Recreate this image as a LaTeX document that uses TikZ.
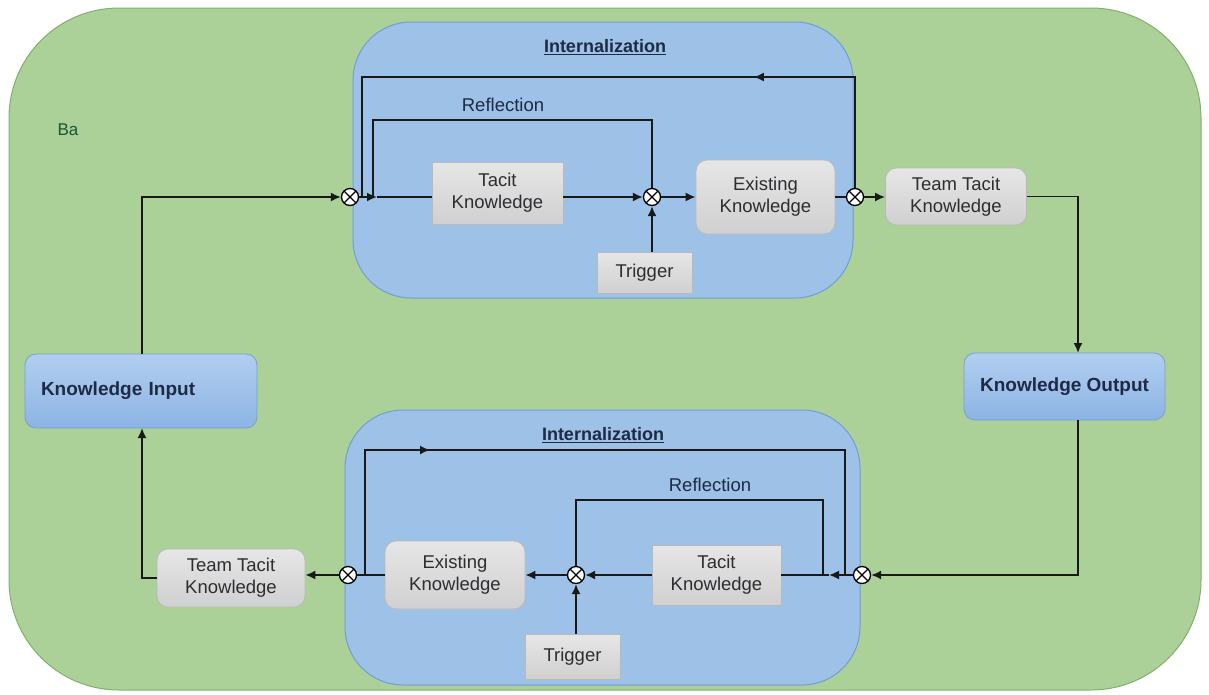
\documentclass[tikz,border=0pt]{standalone}
\usepackage{fontspec}
\setmainfont{Liberation Sans}
\usetikzlibrary{arrows.meta,decorations.markings,calc}
\definecolor{bagreen}{RGB}{171,209,152}
\definecolor{bagreenborder}{RGB}{128,176,108}
\definecolor{contblue}{RGB}{158,193,232}
\definecolor{contblueborder}{RGB}{112,158,212}
\definecolor{boxtop}{RGB}{230,230,230}
\definecolor{boxbot}{RGB}{208,208,208}
\definecolor{boxborder}{RGB}{185,185,185}
\definecolor{kbtop}{RGB}{178,206,240}
\definecolor{kbbot}{RGB}{140,180,228}
\definecolor{kbborder}{RGB}{118,160,212}
\definecolor{txt}{RGB}{45,45,50}
\definecolor{navy}{RGB}{30,42,70}
\begin{document}
\begin{tikzpicture}[x=1pt,y=-1pt,
  regfont/.style={font=\fontsize{18.5}{22}\selectfont},
  ln/.style={line width=1.7pt, draw=black!90},
  arr/.style={ln, -{Latex[length=10pt,width=9pt]}},
  midarrow/.style={postaction={decorate}, decoration={markings, mark=at position #1 with {\arrow{Latex[length=10pt,width=9pt]}}}},
  container/.style={draw=contblueborder, line width=1pt, fill=contblue, rounded corners=58pt, inner sep=0pt},
  graybox/.style={draw=boxborder, line width=0.8pt, top color=boxtop, bottom color=boxbot, align=center, text=txt, regfont, inner sep=2pt},
  grayround/.style={graybox, rounded corners=11pt},
  kbox/.style={draw=kbborder, line width=0.8pt, top color=kbtop, bottom color=kbbot, rounded corners=11pt, text=navy, font=\fontsize{19}{22}\selectfont\bfseries, inner sep=2pt},
  junc/.style={circle, draw=black, line width=1.3pt, fill=white, minimum size=17pt, inner sep=0pt,
    path picture={\draw[line width=1.1pt] (path picture bounding box.north west) -- (path picture bounding box.south east)
      (path picture bounding box.north east) -- (path picture bounding box.south west);}},
  lbl/.style={text=navy, regfont},
  title/.style={text=navy, font=\fontsize{18}{22}\selectfont\bfseries}
]
\useasboundingbox (0,0) rectangle (1209,694);
% Ba background
\node[draw=bagreenborder, line width=1pt, fill=bagreen, rounded corners=110pt, minimum width=1192pt, minimum height=682pt, inner sep=0pt] (ba) at (605,349) {};
\node[text=navy!80!green, font=\fontsize{17}{20}\selectfont] (batext) at (68,130) {Ba};

% containers
\node[container, minimum width=500pt, minimum height=276pt] (topc) at (603,160) {};
\node[container, minimum width=515pt, minimum height=275pt] (botc) at (602.5,547.5) {};
\node[title] (t1) at (605,47) {\underline{Internalization}};
\node[title] (t2) at (603,435) {\underline{Internalization}};

% top row nodes
\node[graybox, minimum width=131pt, minimum height=62pt] (tacitT) at (497.5,193) {Tacit\\Knowledge};
\node[grayround, minimum width=139pt, minimum height=74pt] (existT) at (765.5,197) {Existing\\Knowledge};
\node[grayround, minimum width=141pt, minimum height=57pt] (teamT) at (956,196.5) {Team Tacit\\Knowledge};
\node[graybox, minimum width=95pt, minimum height=41pt] (trigT) at (644.5,272.5) {Trigger};
\node[junc] (J1) at (350,197) {};
\node[junc] (J2) at (652,197) {};
\node[junc] (J3) at (855,197) {};
\node[lbl] (reflT) at (503,105) {Reflection};

% bottom row nodes
\node[graybox, minimum width=129pt, minimum height=60pt] (tacitB) at (716.5,575) {Tacit\\Knowledge};
\node[grayround, minimum width=140pt, minimum height=68pt] (existB) at (455,575) {Existing\\Knowledge};
\node[grayround, minimum width=148pt, minimum height=58pt] (teamB) at (231,578) {Team Tacit\\Knowledge};
\node[graybox, minimum width=95pt, minimum height=45pt] (trigB) at (572.5,656.5) {Trigger};
\node[junc] (J4) at (862,575) {};
\node[junc] (J5) at (576,575) {};
\node[junc] (J6) at (348,575) {};
\node[lbl] (reflB) at (710,485) {Reflection};

% knowledge input / output
\node[kbox, minimum width=232pt, minimum height=74pt, text width=200pt, align=left] (KI) at (141,391) {Knowledge Input};
\node[kbox, minimum width=201pt, minimum height=67pt] (KO) at (1064.5,386.5) {Knowledge Output};

% coordinates
\coordinate (koin) at (1078,353);
\coordinate (koout) at (1078,420);
\coordinate (kiin) at (142,428);
\coordinate (kiout) at (142,354);
\coordinate (a1) at (377,197);
\coordinate (ot1) at (362,77);
\coordinate (ot2) at (362,197);
\coordinate (rt1) at (373,120);
\coordinate (rt2) at (373,197);
\coordinate (b1) at (829,575);
\coordinate (ob1) at (365,575);
\coordinate (ob2) at (845,450);
\coordinate (ob3) at (845,575);
\coordinate (rb1) at (823,500);
\coordinate (rb2) at (823,575);

% top connectors
\draw[arr] (kiout) |- (J1.west);
\draw[arr] (J1.east) -- (a1);
\draw[ln] (a1) -- (a1 -| tacitT.west);
\draw[arr] (tacitT.east |- J2) -- (J2.west);
\draw[arr] (J2.east) -- (J2 -| existT.west);
\draw[arr] (J2 |- trigT.north) -- (J2.south);
\draw[ln] (J3 -| existT.east) -- (J3.west);
\draw[arr] (J3.east) -- (J3 -| teamT.west);
\draw[ln, midarrow=212pt] (J3.north) |- (ot1) -- (ot2);
\draw[ln] (J2.north) |- (rt1) -- (rt2);
\draw[arr] (teamT.east) -| (koin);

% bottom connectors
\draw[arr] (koout) |- (J4.east);
\draw[arr] (J4.west) -- (b1);
\draw[ln] (b1) -- (b1 -| tacitB.east);
\draw[arr] (J5 -| tacitB.west) -- (J5.east);
\draw[arr] (J5.west) -- (J5 -| existB.east);
\draw[arr] (J5 |- trigB.north) -- (J5.south);
\draw[ln] (J6 -| existB.west) -- (J6.east);
\draw[arr] (J6.west) -- (J6 -| teamB.east);
\draw[ln, midarrow=190pt] (ob1) |- (ob2) -- (ob3);
\draw[ln] (J5.north) |- (rb1) -- (rb2);
\draw[arr] (teamB.west) -| (kiin);
\end{tikzpicture}
\end{document}
